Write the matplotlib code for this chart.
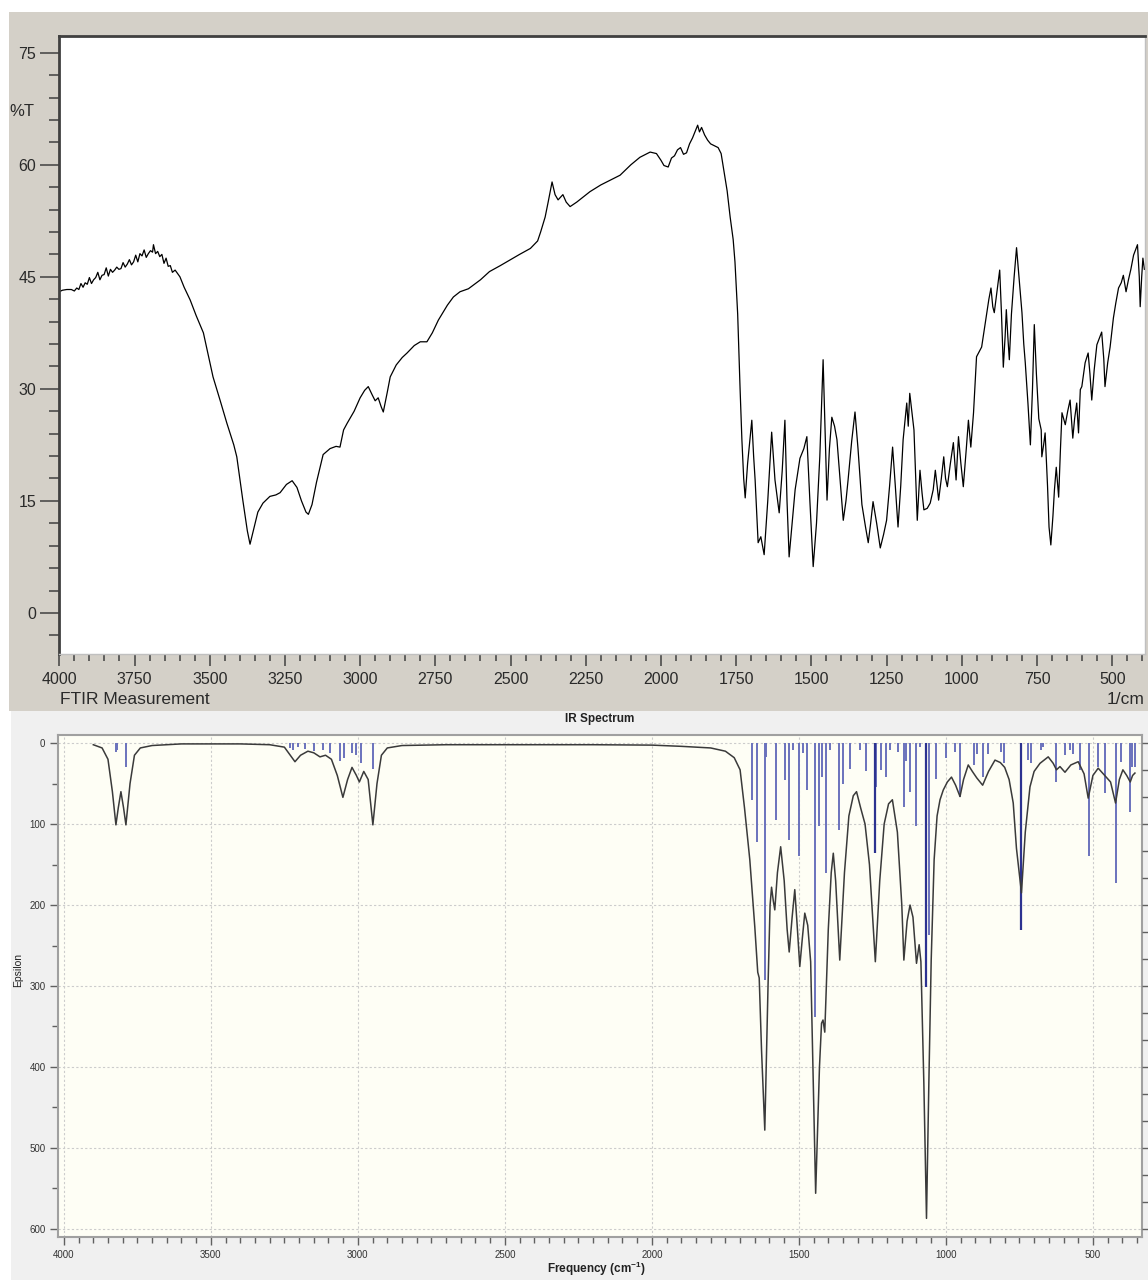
import matplotlib
matplotlib.use("Agg")
import matplotlib.pyplot as plt
from matplotlib.patches import Rectangle
from matplotlib.ticker import MultipleLocator, FixedLocator

plt.rcParams['font.family'] = ['Liberation Sans', 'DejaVu Sans']
plt.rcParams['mathtext.fontset'] = 'custom'
plt.rcParams['mathtext.rm'] = 'Liberation Sans'
plt.rcParams['mathtext.bf'] = 'Liberation Sans:bold'

W, H = 1148, 1280

# ---- FTIR measurement: wavenumber (1/cm) and transmittance (%T) ----
ftir_wn = [4000, 3990, 3975, 3960, 3950, 3942, 3935, 3928, 3921, 3914, 3907, 3900,
           3893, 3886, 3879, 3872, 3865, 3858, 3851, 3844, 3837, 3830, 3823, 3816,
           3809, 3802, 3795, 3788, 3781, 3774, 3767, 3760, 3753, 3746, 3739, 3732,
           3725, 3718, 3711, 3704, 3697, 3690, 3687, 3680, 3673, 3666, 3659, 3652,
           3645, 3638, 3631, 3624, 3615, 3599, 3585, 3565, 3545, 3521, 3489, 3465,
           3443, 3420, 3410, 3390, 3375, 3366, 3355, 3340, 3323, 3300, 3280, 3266,
           3245, 3226, 3210, 3195, 3180, 3172, 3160, 3145, 3123, 3100, 3080, 3067,
           3055, 3043, 3020, 3000, 2985, 2973, 2960, 2950, 2940, 2930, 2923, 2910,
           2900, 2880, 2860, 2844, 2820, 2800, 2778, 2760, 2740, 2710, 2690, 2668,
           2640, 2600, 2570, 2534, 2500, 2470, 2434, 2410, 2400, 2385, 2375, 2362,
           2352, 2342, 2326, 2315, 2302, 2280, 2236, 2200, 2136, 2100, 2070, 2036,
           2015, 2000, 1990, 1976, 1965, 1955, 1945, 1935, 1925, 1915, 1905, 1895,
           1885, 1878, 1872, 1865, 1855, 1845, 1835, 1825, 1810, 1800, 1790, 1780,
           1770, 1760, 1754, 1745, 1737, 1731, 1725, 1720, 1712, 1698, 1692, 1687,
           1677, 1668, 1657, 1645, 1632, 1621, 1607, 1597, 1588, 1581, 1574, 1564,
           1554, 1538, 1525, 1515, 1505, 1494, 1483, 1472, 1466, 1461, 1455, 1448,
           1440, 1432, 1423, 1415, 1405, 1394, 1385, 1378, 1366, 1355, 1345, 1332,
           1320, 1311, 1303, 1295, 1283, 1271, 1260, 1250, 1240, 1230, 1221, 1212,
           1203, 1195, 1183, 1178, 1173, 1166, 1159, 1153, 1148, 1143, 1139, 1132,
           1126, 1115, 1105, 1095, 1088, 1082, 1077, 1068, 1060, 1054, 1048, 1038,
           1028, 1019, 1011, 1003, 995, 985, 978, 970, 961, 951, 942, 934,
           925, 917, 910, 903, 897, 892, 883, 874, 868, 862, 856, 852,
           847, 842, 835, 826, 818, 809, 800, 794, 789, 780, 772, 765,
           759, 752, 744, 736, 734, 728, 723, 715, 710, 704, 697, 692,
           686, 678, 672, 667, 656, 648, 640, 631, 625, 618, 612, 606,
           601, 590, 580, 574, 568, 560, 551, 535, 528, 524, 515, 507,
           496, 488, 479, 470, 463, 454, 446, 438, 429, 416, 410, 407,
           402, 398, 393]
ftir_t = [43.0, 43.2, 43.3, 43.3, 43.1, 43.5, 43.3, 44.1, 43.6, 44.2, 44.0, 44.9,
          44.1, 44.6, 44.9, 45.6, 44.6, 45.2, 45.3, 46.2, 45.1, 46.0, 45.6, 45.9,
          46.3, 46.0, 46.1, 46.9, 46.3, 46.7, 47.3, 46.6, 47.0, 47.9, 47.0, 48.1,
          47.8, 48.6, 47.6, 48.1, 48.5, 48.3, 49.3, 48.1, 48.4, 47.7, 48.0, 46.8,
          47.5, 46.4, 46.5, 45.6, 45.9, 45.0, 43.6, 41.9, 39.8, 37.5, 31.6, 28.4,
          25.4, 22.5, 20.9, 15.1, 11.0, 9.2, 11.0, 13.5, 14.7, 15.6, 15.8, 16.1,
          17.2, 17.7, 16.8, 15.0, 13.5, 13.2, 14.5, 17.5, 21.2, 22.0, 22.3, 22.2,
          24.5, 25.4, 27.0, 28.8, 29.8, 30.3, 29.2, 28.4, 28.8, 27.6, 26.9, 29.5,
          31.6, 33.2, 34.2, 34.8, 35.8, 36.3, 36.3, 37.5, 39.2, 41.2, 42.3, 43.0,
          43.4, 44.6, 45.7, 46.5, 47.3, 48.0, 48.8, 49.8, 51.0, 53.0, 55.0, 57.7,
          56.0, 55.3, 56.0, 55.0, 54.4, 55.0, 56.4, 57.3, 58.6, 60.0, 61.0, 61.7,
          61.5, 60.6, 59.9, 59.7, 60.9, 61.2, 62.0, 62.3, 61.4, 61.6, 62.8, 63.6,
          64.6, 65.3, 64.4, 65.0, 64.0, 63.3, 62.8, 62.6, 62.3, 61.5, 59.0, 56.5,
          53.0, 50.0, 47.0, 40.0, 30.0, 23.2, 18.0, 15.4, 20.0, 25.8, 21.0, 17.8,
          9.4, 10.2, 7.8, 15.0, 24.2, 17.8, 13.4, 19.0, 25.8, 15.0, 7.5, 12.0,
          16.5, 20.7, 22.0, 23.6, 15.0, 6.2, 12.0, 20.9, 28.0, 33.9, 25.0, 15.1,
          22.0, 26.2, 25.0, 23.2, 18.0, 12.4, 15.0, 17.8, 23.0, 26.9, 22.0, 14.5,
          11.5, 9.4, 12.0, 14.9, 12.0, 8.7, 10.5, 12.4, 17.0, 22.2, 17.0, 11.5,
          17.0, 23.2, 28.1, 25.0, 29.4, 27.0, 24.5, 18.0, 12.4, 16.0, 19.1, 16.0,
          13.8, 14.0, 14.7, 16.5, 19.1, 17.0, 15.1, 18.0, 20.9, 18.0, 16.9, 20.0,
          22.8, 17.8, 23.6, 20.0, 16.9, 22.0, 25.8, 22.2, 26.8, 34.3, 35.0, 35.6,
          38.0, 40.2, 42.0, 43.5, 41.0, 40.2, 43.0, 45.9, 40.0, 32.9, 37.0, 40.6,
          37.0, 33.9, 40.0, 45.0, 48.9, 44.5, 40.2, 36.0, 33.5, 28.0, 22.5, 30.0,
          38.6, 32.0, 26.0, 24.5, 20.9, 22.5, 24.1, 17.0, 11.5, 9.1, 13.0, 16.5,
          19.5, 15.5, 22.0, 26.8, 25.2, 27.0, 28.5, 23.4, 26.0, 28.1, 24.1, 29.9,
          30.3, 33.5, 34.8, 32.0, 28.5, 32.5, 35.9, 37.6, 34.0, 30.3, 33.5, 35.6,
          39.5, 41.5, 43.5, 44.2, 45.2, 43.0, 44.6, 46.0, 47.9, 49.3, 45.0, 41.0,
          45.0, 47.5, 46.0]

# ---- Computed IR spectrum: broadened curve and stick intensities ----
calc_wn = [3900, 3870, 3850, 3835, 3823, 3815, 3806, 3797, 3789, 3775, 3760, 3740,
           3700, 3600, 3500, 3400, 3300, 3250, 3230, 3214, 3195, 3170, 3150, 3129,
           3110, 3090, 3070, 3051, 3035, 3020, 3005, 2995, 2980, 2965, 2949, 2935,
           2920, 2900, 2850, 2700, 2500, 2200, 2000, 1900, 1800, 1750, 1720, 1700,
           1685, 1667, 1650, 1640, 1635, 1627, 1616, 1605, 1598, 1593, 1587, 1582,
           1573, 1562, 1550, 1540, 1533, 1523, 1514, 1505, 1497, 1488, 1480, 1470,
           1460, 1443, 1430, 1423, 1418, 1412, 1400, 1390, 1383, 1375, 1361, 1345,
           1330, 1315, 1304, 1290, 1275, 1260, 1240, 1225, 1210, 1195, 1182, 1165,
           1150, 1143, 1132, 1122, 1112, 1100, 1091, 1085, 1075, 1066, 1058, 1050,
           1040, 1030, 1020, 1009, 995, 981, 967, 952, 940, 924, 910, 895,
           875, 855, 833, 815, 800, 785, 771, 760, 743, 730, 714, 700,
           680, 652, 635, 624, 612, 595, 575, 550, 530, 516, 500, 482,
           460, 440, 423, 410, 398, 385, 373, 365, 357]
calc_eps = [2, 6, 20, 60, 101, 80, 60, 80, 101, 50, 15, 6,
            3, 1, 1, 1, 2, 5, 15, 23, 15, 10, 12, 17,
            15, 20, 40, 67, 45, 30, 40, 48, 35, 45, 101, 50,
            15, 6, 3, 2, 2, 2, 2.5, 4, 6, 10, 18, 33,
            80, 144, 227, 283, 290, 380, 478, 300, 200, 178, 195, 206,
            160, 128, 170, 230, 258, 215, 181, 230, 276, 240, 210, 225,
            270, 556, 400, 346, 342, 357, 230, 160, 136, 170, 268, 160,
            90, 65, 60, 80, 100, 150, 270, 170, 100, 75, 70, 110,
            200, 268, 220, 200, 215, 272, 249, 270, 420, 587, 420, 268,
            144, 90, 70, 58, 48, 42, 52, 66, 45, 27, 35, 43,
            52, 35, 21, 24, 30, 45, 74, 130, 185, 110, 54, 35,
            25, 17, 25, 33, 29, 36, 27, 23, 38, 68, 40, 31,
            40, 48, 74, 45, 33, 40, 48, 40, 37]

stick_wn = [3824, 3821, 3788, 3232, 3222, 3205, 3180, 3150, 3120, 3095, 3060, 3048,
            3020, 3005, 2990, 2950,
            1661, 1641, 1616, 1612, 1578, 1546, 1533, 1519, 1499, 1485, 1472, 1446,
            1431, 1423, 1409, 1395, 1363, 1351, 1327, 1293, 1273, 1238, 1222, 1204,
            1190, 1164, 1143, 1136, 1122, 1102, 1088, 1057, 1032, 998, 970, 952,
            905, 894, 875, 856, 813, 802, 722, 709, 678, 669, 626, 595,
            578, 569, 544, 514, 482, 459, 422, 406, 374, 366, 357]
stick_eps = [11, 8, 29, 6, 8, 5, 7, 10, 8, 12, 22, 18,
             12, 15, 25, 32,
             70, 122, 293, 17, 95, 46, 120, 8, 140, 12, 58, 338,
             103, 42, 161, 8, 107, 50, 32, 9, 35, 54, 33, 42,
             9, 11, 79, 22, 60, 103, 5, 237, 44, 19, 11, 66,
             27, 13, 42, 13, 11, 25, 21, 25, 9, 5, 48, 15,
             9, 13, 33, 140, 29, 62, 173, 23, 85, 29, 29]
strong_stick_wn = [1241, 1068, 745]
strong_stick_eps = [136, 301, 231]

top_xticks = [4000, 3750, 3500, 3250, 3000, 2750, 2500, 2250, 2000, 1750, 1500, 1250, 1000, 750, 500]
top_yticks = [0, 15, 30, 45, 60, 75]
bot_xticks = [4000, 3500, 3000, 2500, 2000, 1500, 1000, 500]
bot_yticks = [0, 100, 200, 300, 400, 500, 600]


def box(left, top, right, bottom):
    """Pixel box -> figure fraction [l, b, w, h]."""
    return [left / W, 1 - bottom / H, (right - left) / W, (bottom - top) / H]


fig = plt.figure(figsize=(W / 100, H / 100), dpi=100, facecolor='white')
fig.patches.append(Rectangle((9 / W, 1 - 711 / H), (W - 9) / W, (711 - 12) / H,
                             transform=fig.transFigure, facecolor='#d4d0c8',
                             edgecolor='none', zorder=-10))
fig.patches.append(Rectangle((11 / W, 0), (W - 11) / W, (H - 711) / H,
                             transform=fig.transFigure, facecolor='#f0f0f0',
                             edgecolor='none', zorder=-10))

# ---------------- FTIR panel ----------------
ax1 = fig.add_axes(box(59.3, 36, 1145, 654))
ax1.set_zorder(2)
ax1.set_facecolor('white')
ax1.plot(ftir_wn, ftir_t, color='black', lw=0.9)
ax1.set_xlim(4000, 391)
ax1.set_ylim(-5.5, 77.24)
ax1.xaxis.set_major_locator(FixedLocator(top_xticks))
ax1.xaxis.set_minor_locator(MultipleLocator(50))
ax1.yaxis.set_major_locator(FixedLocator(top_yticks))
ax1.yaxis.set_minor_locator(MultipleLocator(3))
ax1.tick_params(axis='x', which='major', direction='out', length=8.6, width=1.1,
                color='#404040', pad=4, labelsize=11.5, labelcolor='#2a2a2a')
ax1.tick_params(axis='x', which='minor', direction='out', length=5, width=1.1,
                color='#404040')
ax1.tick_params(axis='y', which='major', direction='out', length=13.7, width=1.1,
                color='#404040', pad=3, labelsize=11.5, labelcolor='#2a2a2a')
ax1.tick_params(axis='y', which='minor', direction='out', length=7.2, width=1.1,
                color='#404040')
for side in ('left', 'top'):
    ax1.spines[side].set_color('#404040')
    ax1.spines[side].set_linewidth(2.0)
for side in ('right', 'bottom'):
    ax1.spines[side].set_color('#c0c0c0')
    ax1.spines[side].set_linewidth(1.0)

fig.text(9 / W, 1 - 112 / H, '%T', ha='left', va='center', fontsize=12, color='#2a2a2a')
fig.text(60 / W, 1 - 700 / H, 'FTIR Measurement', ha='left', va='center',
         fontsize=12.5, color='#2a2a2a')
fig.text(1145 / W, 1 - 700 / H, '1/cm', ha='right', va='center', fontsize=12.5,
         color='#2a2a2a')

# ---------------- Computed spectrum panel ----------------
ax2 = fig.add_axes(box(58, 735, 1142, 1237))
ax2.set_zorder(2)
ax2.set_facecolor('#fefef5')
ax2.set_xlim(4020, 333)
ax2.set_ylim(610, -10)
ax2.vlines(stick_wn, 0, stick_eps, color='#6a72bc', lw=1.4, zorder=2)
ax2.vlines(strong_stick_wn, 0, strong_stick_eps, color='#2c3290', lw=1.6, zorder=2)
ax2.plot(calc_wn, calc_eps, color='#3a3a3a', lw=1.1, zorder=3)
ax2.xaxis.set_major_locator(FixedLocator(bot_xticks))
ax2.xaxis.set_minor_locator(MultipleLocator(50))
ax2.yaxis.set_major_locator(FixedLocator(bot_yticks))
ax2.yaxis.set_minor_locator(MultipleLocator(50))
ax2.grid(True, which='major', color='#cccccc', linestyle=(0, (2, 2)), lw=0.8)
ax2.set_axisbelow(True)
ax2.tick_params(axis='both', which='major', direction='out', length=6, width=1.0,
                color='#606060', pad=3, labelsize=7, labelcolor='#333333')
ax2.tick_params(axis='both', which='minor', direction='out', length=4, width=1.0,
                color='#606060')
for side in ax2.spines:
    ax2.spines[side].set_color('#a0a0a0')
    ax2.spines[side].set_linewidth(1.5)

ax2r = ax2.twinx()
ax2r.set_ylim(610, -10)
ax2r.yaxis.set_major_locator(FixedLocator([k * 100 / 3 for k in range(19)]))
ax2r.tick_params(axis='y', direction='out', length=4, width=1.0, color='#606060',
                 labelright=False)
for side in ax2r.spines:
    ax2r.spines[side].set_visible(False)

fig.text(600 / W, 1 - 719 / H, 'IR Spectrum', ha='center', va='center',
         fontsize=8.5, fontweight='bold', color='#222222')
fig.text(18 / W, 1 - 970 / H, 'Epsilon', ha='center', va='center', rotation=90,
         fontsize=7.5, color='#222222')
fig.text(596 / W, 1 - 1269 / H, r'Frequency (cm$^{\mathbf{-1}}$)', ha='center',
         va='center', fontsize=8.5, fontweight='bold', color='#222222')

fig.savefig('out.png', dpi=100, facecolor='white')
